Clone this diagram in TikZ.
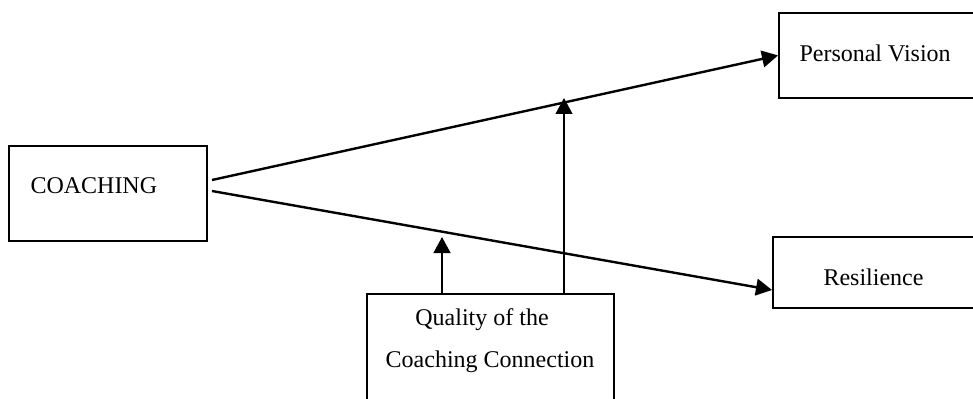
\documentclass[tikz,border=0pt]{standalone}
\usepackage{fontspec}
\setmainfont{Liberation Serif}
\usetikzlibrary{arrows.meta}

\tikzset{every picture/.style={line width=0.75pt}}
\tikzset{
  box/.style={draw, rectangle, line width=1.4pt, inner sep=0pt, anchor=north west},
  lbl/.style={font=\fontsize{18pt}{22pt}\selectfont, inner sep=0pt, anchor=base west},
  arr/.style={line width=1.8pt, -{Triangle[length=12pt,width=12.5pt]}}
}

\begin{document}
\begin{tikzpicture}[x=0.75pt,y=0.75pt,yscale=-1,xscale=1]
\useasboundingbox (0,0) rectangle (973,399);
\clip (0,0) rectangle (973,399);

%Shape: Rectangle
\node[box, minimum width=148.5pt, minimum height=71.25pt] (coach) at (8,145) {};
%Shape: Rectangle
\node[box, minimum width=166.5pt, minimum height=63.75pt] (pv) at (778,12) {};
%Shape: Rectangle
\node[box, minimum width=171pt, minimum height=53.25pt] (rs) at (772,236) {};
%Shape: Rectangle
\node[box, minimum width=185.25pt, minimum height=105pt] (qual) at (366,293) {};

\coordinate (cu) at (212,180);
\coordinate (cl) at (212,191);
\coordinate (rsin) at (772,290);
\coordinate (q1) at (442,293);
\coordinate (m1) at (442,237);
\coordinate (q2) at (564,293);
\coordinate (m2) at (564,98);

%Straight Lines
\draw[arr] (cu) -- (pv.west);
%Straight Lines
\draw[arr] (cl) -- (rsin);
%Straight Lines
\draw[arr] (q1) -- (m1);
%Straight Lines
\draw[arr] (q2) -- (m2);

% Text Node
\node[lbl] (coachtxt) at (30,193.5) {COACHING};
% Text Node
\node[lbl] (pvtxt) at (799,62) {Personal Vision};
% Text Node
\node[lbl] (rstxt) at (823,285) {Resilience};
% Text Node
\node[lbl, anchor=base] (qualtxt) at (482,325) {Quality of the};
% Text Node
\node[lbl, anchor=base] (conntxt) at (490,367) {Coaching Connection};

\end{tikzpicture}
\end{document}
